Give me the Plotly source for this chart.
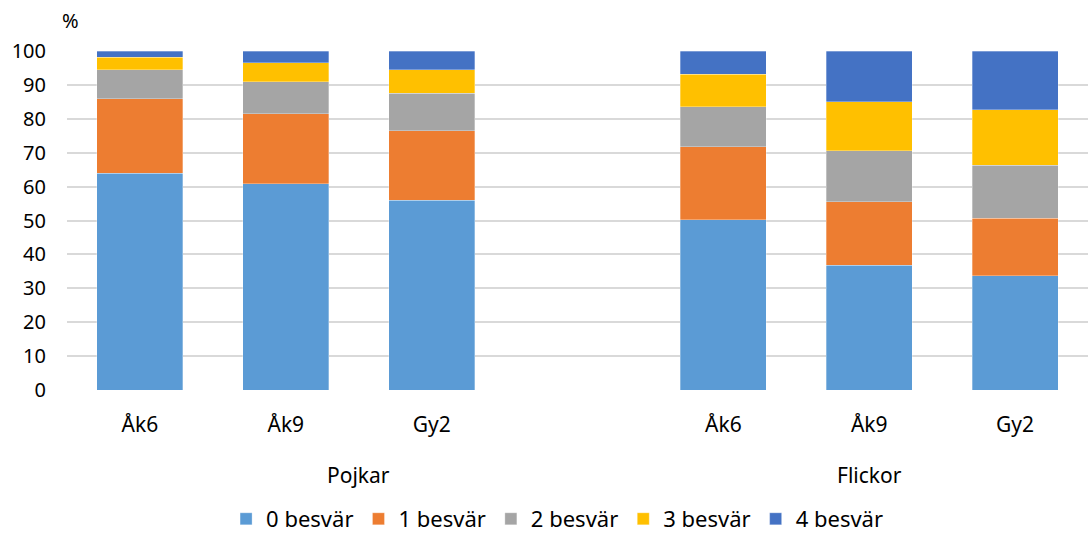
import plotly.graph_objects as go

# slots 0-2 Pojkar, 3 empty gap (belongs to Pojkar group), 4-6 Flickor
positions = [0, 1, 2, 4, 5, 6]
arskurs = ["Åk6", "Åk9", "Gy2", "Åk6", "Åk9", "Gy2"]
grupper = ["Pojkar", "Flickor"]
grupp_pos = [1.5, 5]

besvar_0 = [63.9, 60.9, 56.0, 50.2, 36.8, 33.7]
besvar_1 = [22.0, 20.6, 20.5, 21.5, 18.7, 16.9]
besvar_2 = [8.6, 9.4, 11.0, 11.8, 15.1, 15.7]
besvar_3 = [3.6, 5.6, 6.9, 9.6, 14.4, 16.3]
besvar_4 = [1.9, 3.5, 5.6, 6.9, 15.0, 17.4]

serier = ["0 besvär", "1 besvär", "2 besvär", "3 besvär", "4 besvär"]
farger = ["#5B9BD5", "#ED7D31", "#A5A5A5", "#FFC000", "#4472C4"]
varden = [besvar_0, besvar_1, besvar_2, besvar_3, besvar_4]

font = "Noto Sans"

fig = go.Figure()
for namn, farg, v in zip(serier, farger, varden):
    fig.add_trace(go.Bar(x=positions, y=v, name=namn, width=0.59,
                         marker=dict(color=farg, line=dict(width=0.6, color="rgba(255,255,255,0.5)"))))

fig.update_layout(
    barmode="stack",
    width=1088, height=540,
    margin=dict(l=67, r=0, t=51, b=150, autoexpand=False),
    plot_bgcolor="white", paper_bgcolor="white",
    font=dict(family=font, size=18, color="#000000"),
    showlegend=True,
    legend=dict(orientation="h", x=0.48, xanchor="center", yref="container", y=0.0, yanchor="bottom",
                font=dict(size=22), itemwidth=30, traceorder="normal"),
)
fig.update_xaxes(range=[-0.5, 6.5], tickvals=positions, ticktext=arskurs,
                 tickfont=dict(size=21), showgrid=False, zeroline=False,
                 ticks="", ticklabelstandoff=20, automargin=False)
fig.update_yaxes(range=[0, 100], dtick=10, showgrid=True, gridcolor="#D9D9D9", gridwidth=1.5,
                 zeroline=False, tickfont=dict(size=20), ticklabelstandoff=20, ticks="", automargin=False)

for g, p in zip(grupper, grupp_pos):
    fig.add_annotation(x=p, y=-0.25, xref="x", yref="paper", text=g, showarrow=False,
                       font=dict(size=21), yanchor="middle")
fig.add_annotation(x=0.003, y=1.09, xref="paper", yref="paper", text="%", showarrow=False,
                   font=dict(size=20), xanchor="center", yanchor="middle")

# no page margin, so the figure fills the window
fig.write_html("out.html", config={"displayModeBar": False},
               post_script="document.body.style.margin='0px';")
